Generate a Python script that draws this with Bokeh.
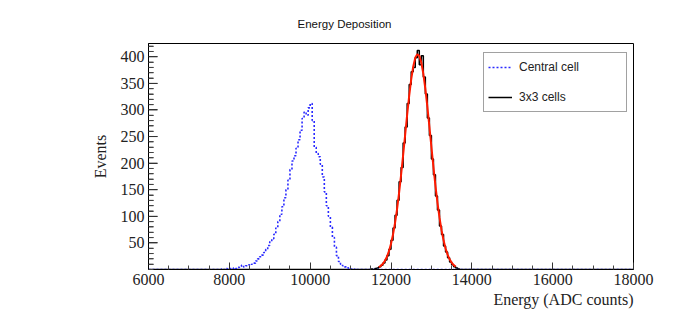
from bokeh.plotting import figure
from bokeh.models import Range1d, FixedTicker, Legend, LegendItem, Title
from bokeh.embed import file_html
from bokeh.resources import INLINE

# ---------------- data ----------------
x_lo, x_hi = 6000, 18000
y_lo, y_hi = 0, 425
bin_width = 50

# Central cell (blue dotted histogram), bins of 50 starting at 7800
central_start = 7800
central_counts = [1, 0, 2, 1, 2, 1, 3, 2, 4, 6, 8, 5, 7, 9, 8, 10, 12, 16, 20, 24,
                  27, 32, 38, 45, 52, 58, 66, 78, 90, 104, 118, 135, 150, 168, 188,
                  204, 214, 228, 244, 262, 284, 296, 290, 304, 312, 280, 230, 218,
                  212, 198, 174, 146, 120, 100, 80, 60, 42, 26, 15, 10, 7, 5, 3, 2,
                  1, 0, 1, 0]

# 3x3 cells (black histogram), bins of 50 starting at 11500
sum_start = 11500
sum_counts = [1, 0, 2, 3, 5, 8, 12, 18, 26, 38, 55, 78, 102, 130, 165, 192, 238,
              268, 312, 348, 372, 380, 398, 412, 385, 402, 362, 330, 285, 252, 208,
              178, 138, 112, 82, 66, 44, 33, 22, 14, 9, 5, 3, 1, 0]

# Gaussian fit curve (red), sampled values
fit_x = [11700, 11750, 11800, 11850, 11900, 11950, 12000, 12050, 12100, 12150,
         12200, 12250, 12300, 12350, 12400, 12450, 12500, 12550, 12600, 12650,
         12700, 12750, 12800, 12850, 12900, 12950, 13000, 13050, 13100, 13150,
         13200, 13250, 13300, 13350, 13400, 13450, 13500, 13550, 13600]
fit_y = [4.5, 7.1, 10.9, 16.5, 24.1, 34.5, 48.3, 65.8, 87.6, 113.7, 144.1, 178.2,
         215.1, 253.3, 291.2, 326.6, 357.4, 381.7, 398.0, 404.8, 401.8, 389.3,
         368.0, 339.6, 305.7, 268.6, 230.4, 192.7, 157.4, 125.4, 97.5, 74.0, 54.8,
         39.6, 27.9, 19.2, 12.9, 8.5, 5.4]

x_ticks = [6000, 8000, 10000, 12000, 14000, 16000, 18000]
y_ticks = [50, 100, 150, 200, 250, 300, 350, 400]
x_minor_step = 500
y_minor_step = 10

title_text = "Energy Deposition"
x_title = "Energy (ADC counts)"
y_title = "Events"
legend_labels = ["Central cell", "3x3 cells"]


def hist_steps(start, width, counts, lo, hi):
    edges = [start + i * width for i in range(len(counts) + 1)]
    xs = [lo] + edges + [hi]
    ys = [0] + list(counts) + [0, 0]
    return xs, ys


serif = "Liberation Serif"
sans = "Liberation Sans"

frame_w, frame_h = 485, 226

# ---------------- figure ----------------
p = figure(width=674, height=323, output_backend="svg", toolbar_location=None,
           x_range=Range1d(x_lo, x_hi), y_range=Range1d(y_lo, y_hi),
           min_border_left=148, min_border_right=41, min_border_top=43,
           min_border_bottom=54)
p.outline_line_color = "black"
p.outline_line_width = 1
p.xgrid.visible = False
p.ygrid.visible = False

y_minor = [v for v in range(y_lo, 421, y_minor_step) if v not in y_ticks]
x_minor = [v for v in range(x_lo, x_hi + 1, x_minor_step) if v not in x_ticks]

p.xaxis.ticker = FixedTicker(ticks=x_ticks, minor_ticks=x_minor)
p.yaxis.ticker = FixedTicker(ticks=y_ticks, minor_ticks=y_minor)
p.xaxis.major_tick_in = 7
p.xaxis.minor_tick_in = 4
p.yaxis.major_tick_in = 9
p.yaxis.minor_tick_in = 5
p.xaxis.major_tick_out = 0
p.xaxis.minor_tick_out = 0
p.yaxis.major_tick_out = 0
p.yaxis.minor_tick_out = 0
p.xaxis.major_tick_line_color = "#333333"
p.yaxis.major_tick_line_color = "#333333"
p.xaxis.minor_tick_line_color = "#444444"
p.yaxis.minor_tick_line_color = "#444444"
p.xaxis.major_label_text_font = serif
p.yaxis.major_label_text_font = serif
p.xaxis.major_label_text_font_size = "16px"
p.yaxis.major_label_text_font_size = "16px"
p.xaxis.major_label_text_color = "#222222"
p.yaxis.major_label_text_color = "#222222"
p.xaxis.major_label_standoff = 4
p.yaxis.major_label_standoff = 4

# y-axis title as the axis's own label
p.yaxis.axis_label = y_title
p.yaxis.axis_label_text_font = serif
p.yaxis.axis_label_text_font_size = "16px"
p.yaxis.axis_label_text_font_style = "normal"
p.yaxis.axis_label_text_color = "#222222"
p.yaxis.axis_label_standoff = 9

# inward ticks also drawn through the data scales (ROOT style)
px_x = (x_hi - x_lo) / frame_w
tick_col = "#333333"
p.segment(x0=[x_lo] * len(y_ticks), y0=y_ticks,
          x1=[x_lo + 9 * px_x] * len(y_ticks), y1=y_ticks,
          line_color=tick_col, line_width=1)
p.segment(x0=[x_lo] * len(y_minor), y0=y_minor,
          x1=[x_lo + 5 * px_x] * len(y_minor), y1=y_minor,
          line_color=tick_col, line_width=1)

xs, ys = hist_steps(sum_start, bin_width, sum_counts, x_lo, x_hi)
r_sum = p.step(xs, ys, mode="after", line_color="black", line_width=1.5)

p.line(fit_x, fit_y, line_color="#ff1a00", line_width=2)

xs, ys = hist_steps(central_start, bin_width, central_counts, x_lo, x_hi)
r_central = p.step(xs, ys, mode="after", line_color="#2a2aff", line_width=1.6,
                   line_dash="2 2")

legend = Legend(items=[LegendItem(label=legend_labels[0], renderers=[r_central]),
                       LegendItem(label=legend_labels[1], renderers=[r_sum])],
                location=(335, 157))
legend.border_line_color = "#444444"
legend.border_line_width = 1
legend.background_fill_color = "white"
legend.background_fill_alpha = 1
legend.label_text_font = sans
legend.label_text_font_size = "12px"
legend.label_text_color = "#222222"
legend.glyph_width = 24
legend.glyph_height = 20
legend.label_height = 20
legend.label_width = 103
legend.label_standoff = 7
legend.spacing = 10
legend.padding = 4
legend.margin = 0
p.add_layout(legend, "center")

p.add_layout(Title(text=title_text, text_font=sans, text_font_size="11.5px",
                   text_font_style="normal", text_color="#111111",
                   align="left", offset=149, standoff=28), "above")
p.add_layout(Title(text=x_title, text_font=serif, text_font_size="16px",
                   text_font_style="normal", text_color="#222222",
                   align="right", offset=0, standoff=2), "below")

open("out.html", "w").write(file_html(p, INLINE))
